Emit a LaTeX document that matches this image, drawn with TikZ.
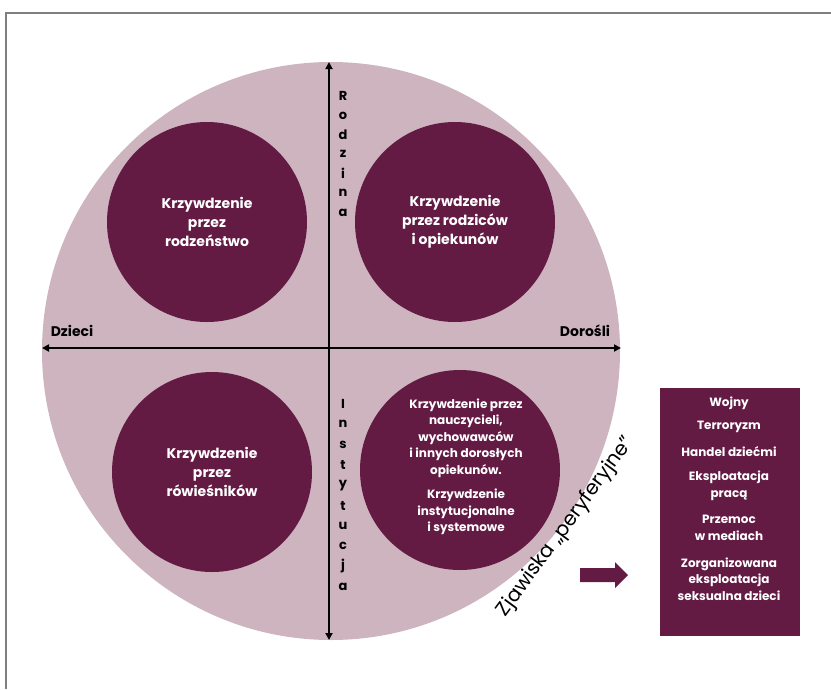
\documentclass[tikz,border=0pt]{standalone}
\usepackage{fontspec}
\setmainfont{Poppins}
\usetikzlibrary{arrows.meta}
\definecolor{mauve}{HTML}{CDB4BF}
\definecolor{plum}{HTML}{631A43}
\definecolor{framegray}{HTML}{7F7F7F}
\tikzset{
  inner/.style={circle,fill=plum,minimum size=200pt,inner sep=0pt},
  lbl/.style={text=white,font=\bfseries\fontsize{14}{19}\selectfont,align=center},
  smalllbl/.style={text=white,font=\bfseries\fontsize{12}{16.5}\selectfont,align=center},
  axis/.style={line width=1.8pt,{Triangle[length=7pt,width=7pt]}-{Triangle[length=7pt,width=7pt]}},
  vlet/.style={font=\bfseries\fontsize{13}{13}\selectfont,inner sep=0pt},
  axlbl/.style={font=\bfseries\fontsize{14}{14}\selectfont,inner sep=0pt}
}
\begin{document}
\begin{tikzpicture}[x=1pt,y=-1pt]
\useasboundingbox (0,0) rectangle (831,689);
% frame
\draw[framegray,line width=1.5pt] (6,689) -- (6,13) -- (831,13);
% big circle
\node[circle,fill=mauve,minimum size=578pt,inner sep=0pt] (big) at (331,351) {};
% four circles
\node[inner] (tl) at (207,222) {};
\node[inner] (tr) at (455,222) {};
\node[inner] (bl) at (212,472) {};
\node[inner] (br) at (460,470) {};
\node[lbl] at (tl) {Krzywdzenie\\przez\\rodzeństwo};
\node[lbl] at (tr) {Krzywdzenie\\przez rodziców\\i opiekunów};
\node[lbl] at (bl) {Krzywdzenie\\przez\\rówieśników};
\node[smalllbl] (brt) at (466,467) {Krzywdzenie przez\\nauczycieli,\\wychowawców\\i innych dorosłych\\opiekunów.\\[8pt]Krzywdzenie\\instytucjonalne\\i systemowe};
% axes
\coordinate (top) at (329,62);
\coordinate (bot) at (329,640);
\coordinate (lft) at (42,348);
\coordinate (rgt) at (621,348);
\draw[axis] (bot) -- (top);
\draw[axis] (lft) -- (rgt);
\node[axlbl] (dz) at (72,331) {Dzieci};
\node[axlbl] (do) at (585,331) {Dorośli};
% vertical letters
\foreach \l [count=\i from 0] in {R,o,d,z,i,n,a}
  \node[vlet] at (343,96+19.4*\i) {\l};
\foreach \l [count=\i from 0] in {I,n,s,t,y,t,u,c,j,a}
  \node[vlet] at (343,404+20.3*\i) {\l};
% peripheral text
\node[rotate=53.7,font=\fontsize{20}{20}\selectfont,inner sep=0pt] (zj) at (566,527) {Zjawiska „peryferyjne”};
% arrow
\fill[plum] (580,568) -- (615,568) -- (615,562) -- (628,575) -- (615,588) -- (615,582) -- (580,582) -- cycle;
% right box
\node[fill=plum,minimum width=140pt,minimum height=248pt,inner sep=0pt] (box) at (730,512) {};
\begin{scope}[every node/.style={text=white,font=\bfseries\fontsize{12}{16.5}\selectfont,align=center}]
\node at (729,403) {Wojny};
\node at (729,427) {Terroryzm};
\node at (729,452) {Handel dziećmi};
\node at (729,486) {Eksploatacja\\pracą};
\node at (729,528) {Przemoc\\w mediach};
\node at (729,579) {Zorganizowana\\eksploatacja\\seksualna dzieci};
\end{scope}
\end{tikzpicture}
\end{document}
